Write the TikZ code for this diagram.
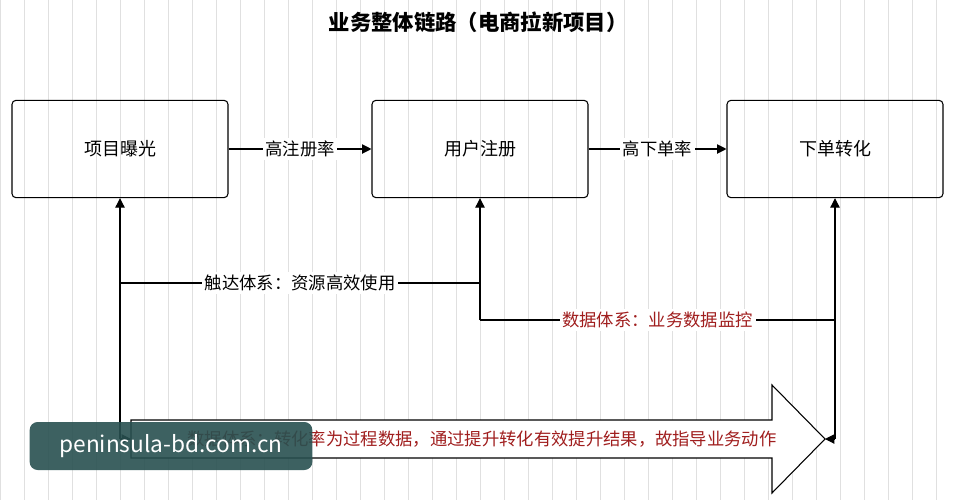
\documentclass[tikz,border=0pt]{standalone}
\usepackage{fontspec}
\setmainfont{Noto Sans CJK SC}
\usetikzlibrary{arrows.meta}
\definecolor{darkred}{RGB}{160,30,30}
\tikzset{
  stage/.style={draw, thick, rounded corners=3pt, minimum width=162pt, minimum height=73pt, font=\fontsize{13.5}{15}\selectfont},
  link/.style={thick, -{Triangle[length=7pt,width=7pt]}},
  lbl/.style={fill=white, inner sep=2pt, font=\fontsize{13}{15}\selectfont},
}
\begin{document}
\begin{tikzpicture}[x=0.75pt,y=-0.75pt]

\useasboundingbox (0,0) rectangle (957,500);
\fill[white] (0,0) rectangle (957,500);
\draw[black!12] (0,0) grid[step=24] (957,500);

\node[font=\fontsize{16}{18}\selectfont\bfseries] (title) at (478,22) {业务整体链路（电商拉新项目）};

\node[stage] (expo) at (120,149) {项目曝光};
\node[stage] (reg) at (480,149) {用户注册};
\node[stage] (order) at (835,149) {下单转化};

\draw[link] (expo) -- node[lbl] {高注册率} (reg);
\draw[link] (reg) -- node[lbl] {高下单率} (order);

% big arrow
\draw[thick, fill=white] (131,420) -- (772,420) -- (772,385) -- (825,439) -- (772,493) -- (772,458) -- (131,458) -- cycle;
\node[font=\fontsize{13}{15}\selectfont, text=darkred] (conv) at (482,439) {数据体系：转化率为过程数据，通过提升转化有效提升结果，故指导业务动作};

\coordinate (l0) at (120,439);
\coordinate (l1) at (120,283);
\coordinate (m0) at (480,283);
\coordinate (m1) at (480,320);
\coordinate (r1) at (835,320);
\coordinate (r0) at (835,439);

\draw[link] (l0) -- (expo.south);
\draw[link] (l0) -- (131,439);
\draw[thick] (l1) -- node[lbl] {触达体系：资源高效使用} (m0);
\draw[link] (m1) -- (reg.south);
\draw[thick] (m1) -- node[lbl, text=darkred] {数据体系：业务数据监控} (r1);
\draw[link] (r0) -- (order.south);
\draw[link] (r0) -- (825,439);

% watermark
\node[fill={rgb,255:red,40;green,80;blue,80}, fill opacity=0.9, text opacity=1, text=white, rounded corners=6pt, minimum width=212pt, minimum height=36pt, font=\fontsize{17}{19}\selectfont] (mark) at (171,446) {peninsula-bd.com.cn};

\end{tikzpicture}
\end{document}
